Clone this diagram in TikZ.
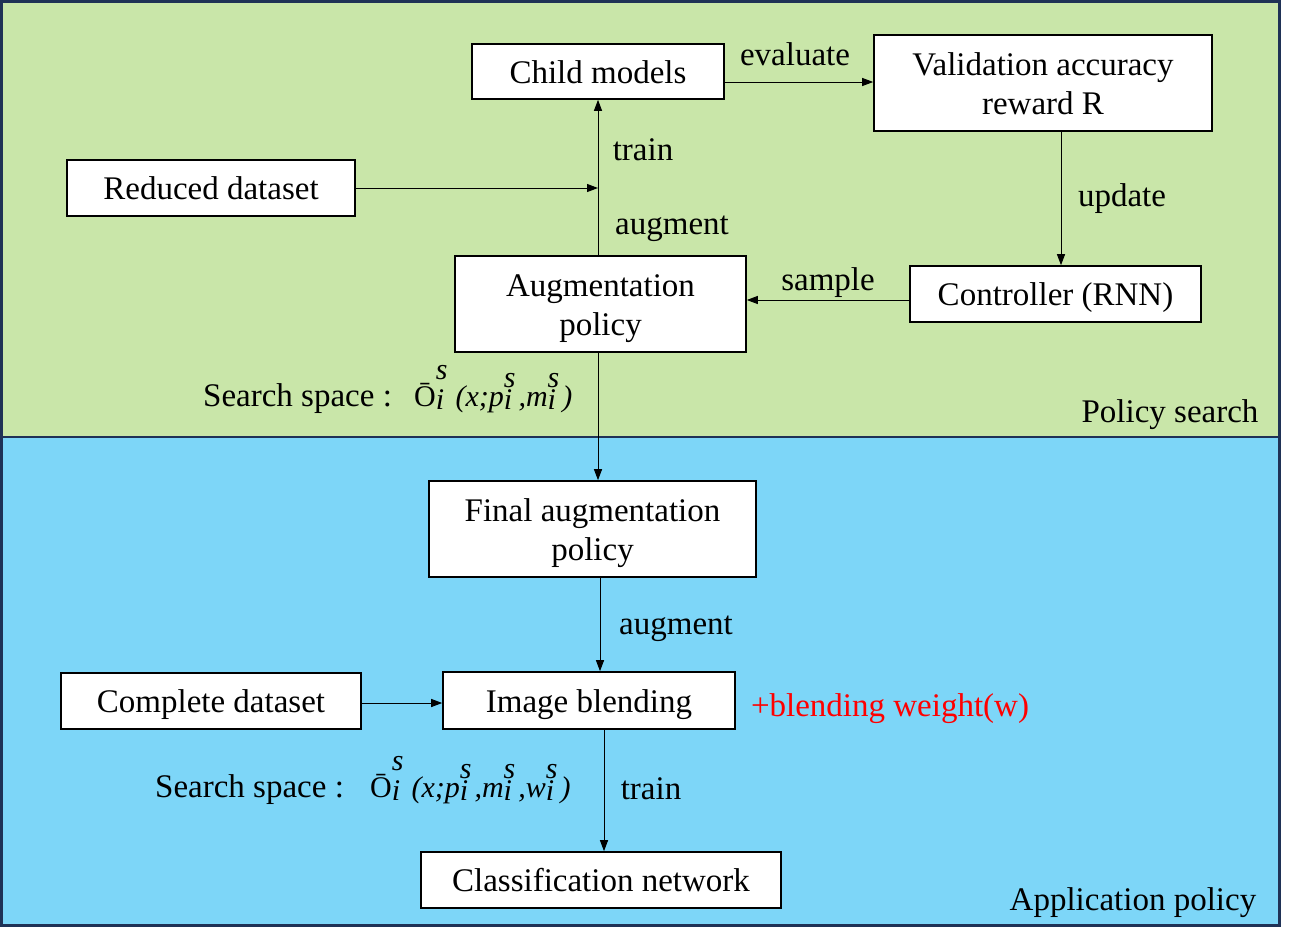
\documentclass[tikz,border=0pt]{standalone}
\usepackage{fontspec}
\setmainfont{Liberation Serif}
\usetikzlibrary{arrows.meta}
\definecolor{gbg}{HTML}{C9E6A9}
\definecolor{bbg}{HTML}{7DD6F8}
\definecolor{navy}{HTML}{1F3256}
% stacked super/subscript
\newcommand{\SupSub}[4][0.63em]{\begingroup\fontsize{30}{30}\selectfont\itshape\sbox0{#2}\sbox2{#3}\ifdim\wd0>\wd2 \dimen0=\wd0\else\dimen0=\wd2\fi\makebox[\dimen0][l]{\rlap{\raisebox{#1}{#2}}\raisebox{-0.1em}{#3}}\hspace{#4}\endgroup}
\newcommand{\Obar}{{\fontsize{30}{30}\selectfont\=O}}
\newcommand{\FormA}{\Obar\SupSub[0.87em]{s}{i}{8pt}{\fontsize{30}{30}\selectfont\itshape (x;p\SupSub{s}{i}{3pt},m\SupSub{s}{i}{3pt})}}
\newcommand{\FormB}{\Obar\SupSub[0.87em]{s}{i}{8pt}{\fontsize{30}{30}\selectfont\itshape (x;p\SupSub{s}{i}{3pt},m\SupSub{s}{i}{3pt},w\SupSub{s}{i}{3pt})}}
% box text: fixed struts, lowered a little
\newcommand{\bt}[1]{\raisebox{-4pt}[\height][\depth]{\begin{tabular}{@{}c@{}}#1\end{tabular}}}
\begin{document}
\begin{tikzpicture}[x=1pt,y=-1pt,
  box/.style={draw=black,line width=1.6pt,fill=white,inner sep=0pt,font=\fontsize{33}{39}\selectfont},
  lbl/.style={font=\fontsize{33}{39}\selectfont,inner sep=0pt},
  arr/.style={-{Triangle[length=11pt,width=8pt]},line width=1pt}]
\useasboundingbox (0,0) rectangle (1290,937);
\draw[navy,line width=2.6pt,fill=gbg] (1.3,1.3) rectangle (1279.5,437);
\draw[navy,line width=2.6pt,fill=bbg] (1.3,437) rectangle (1279.5,925.5);
% nodes
\node[box,minimum width=252pt,minimum height=55pt] (child) at (598,71.5) {\bt{Child models}};
\node[box,minimum width=338pt,minimum height=96pt] (val) at (1043,83) {\bt{Validation accuracy\\reward R}};
\node[box,minimum width=288pt,minimum height=56pt] (red) at (211,188) {\bt{Reduced dataset}};
\node[box,minimum width=291pt,minimum height=96pt] (aug) at (600.5,304) {\bt{Augmentation\\policy}};
\node[box,minimum width=291pt,minimum height=56pt] (ctrl) at (1055.5,294) {\bt{Controller (RNN)}};
\node[box,minimum width=327pt,minimum height=96pt] (fin) at (592.5,529) {\bt{Final augmentation\\policy}};
\node[box,minimum width=300pt,minimum height=56pt] (comp) at (211,701) {\bt{Complete dataset}};
\node[box,minimum width=292pt,minimum height=57pt] (blend) at (589,700.5) {\bt{Image blending}};
\node[box,minimum width=360pt,minimum height=56pt] (cls) at (601,880) {\bt{Classification network}};
% helper coordinates
\coordinate (trunk) at (598,0);
\coordinate (ev) at (0,82);
\coordinate (up) at (1061,0);
\coordinate (sm) at (0,300);
\coordinate (fb) at (600,0);
\coordinate (bc) at (604,0);
\coordinate (cb) at (0,703);
% connectors
\draw[arr] (aug.north -| trunk) -- (child.south -| trunk);
\draw[arr] (red.east) -- (red.east -| trunk);
\draw[arr] (child.east |- ev) -- (val.west |- ev);
\draw[arr] (val.south -| up) -- (ctrl.north -| up);
\draw[arr] (ctrl.west |- sm) -- (aug.east |- sm);
\draw[arr] (aug.south -| trunk) -- (fin.north -| trunk);
\draw[arr] (fin.south -| fb) -- (blend.north -| fb);
\draw[arr] (comp.east |- cb) -- (blend.west |- cb);
\draw[arr] (blend.south -| bc) -- (cls.north -| bc);
% labels
\node[lbl] (l1) at (795,54.5) {evaluate};
\node[lbl] (l2) at (643,149.5) {train};
\node[lbl] (l3) at (672,229) {augment};
\node[lbl] (l4) at (1122,199) {update};
\node[lbl] (l5) at (828,283) {sample};
\node[lbl] (l6) at (676,629) {augment};
\node[lbl] (l7) at (651,788.5) {train};
\node[lbl,text=red] (l8) at (890,709) {+blending weight(w)};
\node[lbl] (l9) at (1170,415) {Policy search};
\node[lbl] (l10) at (1133,903) {Application policy};
\node[lbl,anchor=base west] (s1) at (203,406) {Search space :};
\node[lbl,anchor=base west] (f1) at (414,406) {\FormA};
\node[lbl,anchor=base west] (s2) at (155,797) {Search space :};
\node[lbl,anchor=base west] (f2) at (370,797) {\FormB};
\end{tikzpicture}
\end{document}
